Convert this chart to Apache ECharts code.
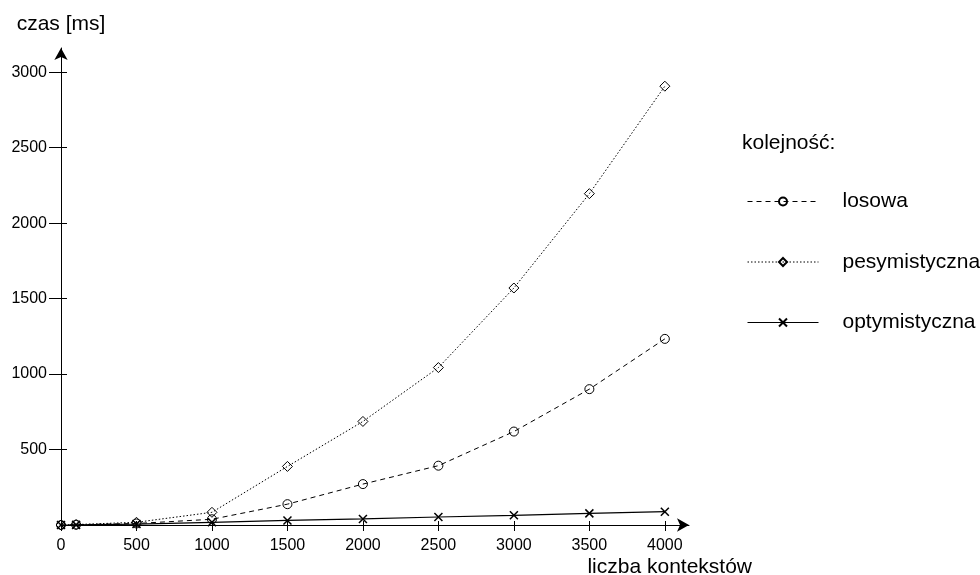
<!DOCTYPE html>
<html>
<head>
<meta charset="utf-8">
<script src="https://cdn.jsdelivr.net/npm/echarts@6/dist/echarts.min.js"></script>
<style>
  html, body { margin: 0; padding: 0; background: #fff; }
  #chart { width: 980px; height: 575px; }
</style>
</head>
<body>
<div id="chart"></div>
<script>
// Number of contexts (x) and measured time in ms for each ordering
const contexts = [0, 100, 500, 1000, 1500, 2000, 2500, 3000, 3500, 4000];
const losowa = [0, 2, 10, 38, 138, 271, 393, 619, 900, 1233];
const pesymistyczna = [0, 3, 18, 84, 388, 686, 1043, 1570, 2195, 2907];
const optymistyczna = [0, 1, 6, 18, 30, 40, 53, 64, 77, 88];

const xTicks = [0, 500, 1000, 1500, 2000, 2500, 3000, 3500, 4000];
const yTicks = [500, 1000, 1500, 2000, 2500, 3000];

const FONT = '"Liberation Sans", Arial, sans-serif';
const CROSS = 'path://M0,0L10,10M10,0L0,10';
const plain = v => String(v);

function pairs(ys) {
  return contexts.map((x, i) => [x, ys[i]]);
}

const chart = echarts.init(document.getElementById('chart'), null, { renderer: 'canvas' });

const baseX = { type: 'value', min: 0, max: 4160, splitLine: { show: false } };
const baseY = { type: 'value', min: 0, max: 3160, splitLine: { show: false } };

chart.setOption({
  animation: false,
  backgroundColor: '#fff',
  textStyle: { fontFamily: FONT, color: '#000' },
  title: {
    text: 'kolejność:',
    left: 742,
    top: 133,
    padding: 0,
    textStyle: { fontFamily: FONT, fontSize: 21, fontWeight: 'normal', color: '#000' }
  },
  legend: {
    orient: 'vertical',
    left: 742,
    top: 186,
    itemWidth: 71,
    itemHeight: 10,
    itemGap: 39.5,
    lineStyle: { width: 1 },
    textStyle: { fontFamily: FONT, fontSize: 21, color: '#000', padding: [0, 0, 0, 19], lineHeight: 21 },
    data: ['losowa', 'pesymistyczna', 'optymistyczna']
  },
  grid: { left: 61, top: 48, width: 628, height: 477, containLabel: false, outerBoundsMode: 'none' },
  xAxis: [
    Object.assign({}, baseX, {
      position: 'bottom',
      name: 'liczba kontekstów',
      nameLocation: 'end',
      nameGap: 63,
      nameTextStyle: {
        fontFamily: FONT, fontSize: 21, color: '#000',
        align: 'right', verticalAlign: 'top', padding: [32, 0, 0, 0]
      },
      axisLine: {
        show: true,
        lineStyle: { color: '#000', width: 1 },
        symbol: ['none', 'arrow'],
        symbolSize: [10, 12]
      },
      axisTick: { show: true, inside: false, length: 6, lineStyle: { color: '#000' }, customValues: xTicks },
      axisLabel: { show: true, fontFamily: FONT, fontSize: 16, color: '#000', margin: 13, formatter: plain, customValues: xTicks }
    }),
    Object.assign({}, baseX, {
      position: 'bottom',
      axisLine: { show: false },
      axisTick: { show: true, inside: true, length: 4, lineStyle: { color: '#000' }, customValues: xTicks },
      axisLabel: { show: false }
    })
  ],
  yAxis: [
    Object.assign({}, baseY, {
      position: 'left',
      name: 'czas [ms]',
      nameLocation: 'end',
      nameGap: 24,
      nameTextStyle: { fontFamily: FONT, fontSize: 21, color: '#000', align: 'center', verticalAlign: 'middle' },
      axisLine: {
        show: true,
        lineStyle: { color: '#000', width: 1 },
        symbol: ['none', 'arrow'],
        symbolSize: [10, 12]
      },
      axisTick: { show: true, inside: false, length: 12, lineStyle: { color: '#000' }, customValues: yTicks },
      axisLabel: { show: true, fontFamily: FONT, fontSize: 16, color: '#000', margin: 14, formatter: plain, customValues: yTicks }
    }),
    Object.assign({}, baseY, {
      position: 'left',
      axisLine: { show: false },
      axisTick: { show: true, inside: true, length: 6, lineStyle: { color: '#000' }, customValues: yTicks },
      axisLabel: { show: false }
    })
  ],
  series: [
    {
      name: 'losowa',
      type: 'line',
      data: pairs(losowa),
      symbol: 'circle',
      symbolSize: 9,
      itemStyle: { color: 'rgba(255,255,255,0)', borderColor: '#000', borderWidth: 1 },
      lineStyle: { color: '#000', width: 1, type: [5, 4] }
    },
    {
      name: 'pesymistyczna',
      type: 'line',
      data: pairs(pesymistyczna),
      symbol: 'diamond',
      symbolSize: 10,
      itemStyle: { color: 'rgba(255,255,255,0)', borderColor: '#000', borderWidth: 1 },
      lineStyle: { color: '#000', width: 1, type: [1.5, 2] }
    },
    {
      name: 'optymistyczna',
      type: 'line',
      data: pairs(optymistyczna),
      symbol: CROSS,
      symbolSize: 8,
      itemStyle: { color: 'rgba(255,255,255,0)', borderColor: '#000', borderWidth: 1.5 },
      lineStyle: { color: '#000', width: 1.2, type: 'solid' }
    }
  ]
});
</script>
</body>
</html>
